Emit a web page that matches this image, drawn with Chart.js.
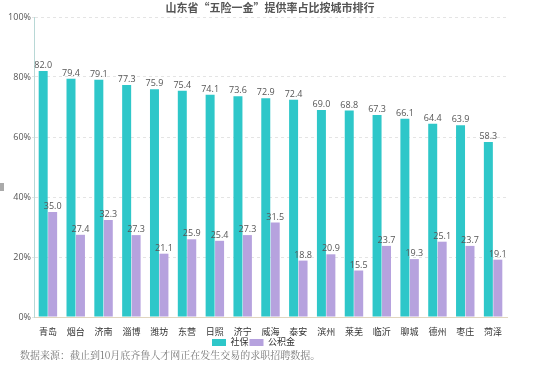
<!DOCTYPE html>
<html>
<head>
<meta charset="utf-8">
<script src="https://cdn.jsdelivr.net/npm/chart.js@4.4.1/dist/chart.umd.min.js"></script>
<style>
  html, body { margin: 0; padding: 0; background: #fff; }
  #wrap { width: 538px; height: 365px; position: relative; }
</style>
</head>
<body>
<div id="wrap"><canvas id="chart" width="538" height="365"></canvas></div>
<script>
// data
const cities = ["青岛", "烟台", "济南", "淄博", "潍坊", "东营", "日照", "济宁", "威海",
  "泰安", "滨州", "莱芜", "临沂", "聊城", "德州", "枣庄", "菏泽"];
const shebao = [82.0, 79.4, 79.1, 77.3, 75.9, 75.4, 74.1, 73.6, 72.9,
  72.4, 69.0, 68.8, 67.3, 66.1, 64.4, 63.9, 58.3];
const gongjijin = [35.0, 27.4, 32.3, 27.3, 21.1, 25.9, 25.4, 27.3, 31.5,
  18.8, 20.9, 15.5, 23.7, 19.3, 25.1, 23.7, 19.1];
const yTicks = [0, 20, 40, 60, 80, 100];

const chartTitle = "山东省\u201c五险一金\u201d提供率占比按城市排行";
const sourceNote = "数据来源：截止到10月底齐鲁人才网正在发生交易的求职招聘数据。";

const FONT = "'Open Sans', 'Noto Sans CJK SC', sans-serif";

// value labels above each bar
const barLabels = {
  id: "barLabels",
  afterDatasetsDraw(chart) {
    const ctx = chart.ctx;
    ctx.save();
    ctx.font = "9px " + FONT;
    ctx.fillStyle = "#555";
    ctx.textAlign = "center";
    ctx.textBaseline = "bottom";
    chart.data.datasets.forEach((ds, i) => {
      chart.getDatasetMeta(i).data.forEach((bar, j) => {
        ctx.fillText(ds.data[j].toFixed(1), bar.x, bar.y - 1);
      });
    });
    ctx.restore();
  },
};

// title + footer note
const texts = {
  id: "texts",
  afterDraw(chart) {
    const ctx = chart.ctx;
    ctx.save();
    ctx.fillStyle = "#555";
    ctx.font = "bold 11px 'Noto Sans CJK SC', sans-serif";
    ctx.textAlign = "center";
    ctx.textBaseline = "middle";
    ctx.fillText(chartTitle, 270, 8);
    ctx.fillStyle = "#777";
    ctx.font = "10px 'Noto Serif CJK SC', 'Noto Sans CJK SC', serif";
    ctx.textAlign = "left";
    ctx.fillText(sourceNote, 20, 355);
    // small grey marker on the left edge
    ctx.fillStyle = "#aaa";
    ctx.fillRect(0, 183, 4, 8);
    ctx.restore();
  },
};

const ctx = document.getElementById("chart").getContext("2d");
const chart = new Chart(ctx, {
  type: "bar",
  data: {
    labels: cities,
    datasets: [
      {
        label: "社保",
        data: shebao,
        backgroundColor: "#2ec7c9",
        barPercentage: 0.95,
        categoryPercentage: 0.68,
      },
      {
        label: "公积金",
        data: gongjijin,
        backgroundColor: "#b6a2de",
        barPercentage: 0.95,
        categoryPercentage: 0.68,
      },
    ],
  },
  options: {
    responsive: false,
    animation: false,
    layout: { padding: { top: 17, right: 31, bottom: 8, left: 0 } },
    plugins: {
      title: { display: false },
      tooltip: { enabled: false },
      legend: {
        position: "bottom",
        align: "center",
        labels: {
          boxWidth: 14,
          boxHeight: 7,
          padding: 1,
          color: "#333",
          font: { size: 9, family: FONT },
        },
      },
    },
    scales: {
      x: {
        grid: { display: false },
        border: { color: "#e0d6bf" },
        ticks: {
          color: "#333",
          font: { size: 9, family: FONT },
          maxRotation: 0,
          autoSkip: false,
          padding: 2,
        },
        afterFit(scale) { scale.height = 20; },
      },
      y: {
        min: 0,
        max: 100,
        afterBuildTicks(scale) { scale.ticks = yTicks.map((v) => ({ value: v })); },
        grid: {
          color: "#e4e4e4",
          drawTicks: true,
          tickLength: 2,
        },
        border: { color: "#b8d8d6", dash: [3, 3] },
        ticks: {
          color: "#555",
          font: { size: 9, family: FONT },
          padding: 1,
          callback: (v) => v + "%",
        },
        afterFit(scale) { scale.width = 34; },
      },
    },
  },
  plugins: [barLabels, texts],
});
</script>
</body>
</html>
